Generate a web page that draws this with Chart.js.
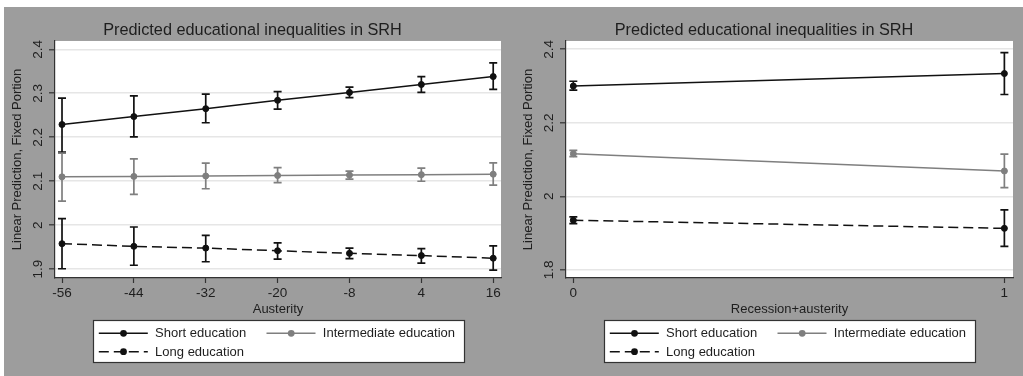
<!DOCTYPE html>
<html>
<head>
<meta charset="utf-8">
<script src="https://cdn.jsdelivr.net/npm/chart.js@4.4.1/dist/chart.umd.min.js"></script>
<style>
  html, body { margin: 0; padding: 0; background: #ffffff; width: 1023px; height: 376px; overflow: hidden; }
  #wrapL { position: absolute; left: 0; top: 7px; width: 511px; height: 369px; background: linear-gradient(to right, #ffffff 4px, #9d9d9d 4px); }
  #wrapR { position: absolute; left: 511px; top: 7px; width: 512px; height: 369px; background: #9d9d9d; }
</style>
</head>
<body>
<div id="wrapL"><canvas id="cL" width="511" height="369"></canvas></div>
<div id="wrapR"><canvas id="cR" width="512" height="369"></canvas></div>
<script>
// ---------- Data ----------
const titleText = 'Predicted educational inequalities in SRH';
const yAxisTitle = 'Linear Prediction, Fixed Portion';
const seriesNames = ['Short education', 'Intermediate education', 'Long education'];

// Left panel: Austerity
const austerity = [-56, -44, -32, -20, -8, 4, 16];
const shortA    = [2.229, 2.247, 2.265, 2.284, 2.302, 2.320, 2.338];
const shortALo  = [2.166, 2.201, 2.233, 2.264, 2.290, 2.302, 2.309];
const shortAHi  = [2.289, 2.294, 2.298, 2.304, 2.314, 2.338, 2.369];
const interA    = [2.110, 2.111, 2.112, 2.113, 2.114, 2.115, 2.116];
const interALo  = [2.055, 2.070, 2.083, 2.097, 2.105, 2.100, 2.091];
const interAHi  = [2.164, 2.151, 2.141, 2.131, 2.123, 2.130, 2.142];
const longA     = [1.958, 1.952, 1.948, 1.942, 1.936, 1.931, 1.925];
const longALo   = [1.901, 1.909, 1.917, 1.923, 1.924, 1.914, 1.898];
const longAHi   = [2.015, 1.996, 1.977, 1.960, 1.948, 1.947, 1.953];
const yTicksA   = [1.9, 2.0, 2.1, 2.2, 2.3, 2.4];

// Right panel: Recession+austerity
const recession = [0, 1];
const shortR    = [2.300, 2.334];
const shortRLo  = [2.289, 2.277];
const shortRHi  = [2.313, 2.391];
const interR    = [2.116, 2.069];
const interRLo  = [2.108, 2.024];
const interRHi  = [2.125, 2.115];
const longR     = [1.935, 1.913];
const longRLo   = [1.926, 1.864];
const longRHi   = [1.944, 1.963];
const yTicksR   = [1.8, 2.0, 2.2, 2.4];

// ---------- Styling ----------
const FONT = 'Liberation Sans, Arial, Helvetica, sans-serif';
const TXT = '#1e1e1e';
const BLACK = '#111111';
const GRAY = '#7f7f7f';
const DASH = [10, 5];

function pts(xs, ys) { return xs.map((x, i) => ({ x: x, y: ys[i] })); }

const plotBg = {
  id: 'plotBg',
  beforeDraw(chart) {
    const { ctx, chartArea: a } = chart;
    ctx.save();
    ctx.fillStyle = '#ffffff';
    ctx.fillRect(a.left, a.top, a.right - a.left, a.bottom - a.top);
    ctx.restore();
  }
};

const errBars = {
  id: 'errBars',
  afterDatasetsDraw(chart) {
    const { ctx } = chart;
    const xs = chart.scales.x, ys = chart.scales.y;
    chart.data.datasets.forEach(ds => {
      if (!ds.lo) return;
      ctx.save();
      ctx.strokeStyle = ds.borderColor;
      ctx.lineWidth = 1.7;
      ctx.setLineDash([]);
      ds.data.forEach((p, i) => {
        const px = xs.getPixelForValue(p.x);
        const y1 = ys.getPixelForValue(ds.lo[i]);
        const y2 = ys.getPixelForValue(ds.hi[i]);
        ctx.beginPath();
        ctx.moveTo(px, y1); ctx.lineTo(px, y2);
        ctx.moveTo(px - 4, y1); ctx.lineTo(px + 4, y1);
        ctx.moveTo(px - 4, y2); ctx.lineTo(px + 4, y2);
        ctx.stroke();
      });
      ctx.restore();
    });
  }
};

const boxLegend = {
  id: 'boxLegend',
  afterDraw(chart) {
    const { ctx, chartArea: a } = chart;
    const w = 371, h = 42;
    const cx = (a.left + a.right) / 2;
    const left = Math.round(cx - w / 2) + 0.5;
    const top = 313.5;
    ctx.save();
    ctx.fillStyle = '#ffffff';
    ctx.fillRect(left, top, w, h);
    ctx.strokeStyle = '#333333';
    ctx.lineWidth = 1.2;
    ctx.strokeRect(left, top, w, h);
    const items = [
      { idx: 0, col: 0, row: 0 },
      { idx: 1, col: 1, row: 0 },
      { idx: 2, col: 0, row: 1 }
    ];
    const colX = [5.3, 173];
    const rowY = [326.3, 344.7];
    items.forEach(it => {
      const ds = chart.data.datasets[it.idx];
      const x0 = left + colX[it.col];
      const y = rowY[it.row];
      ctx.strokeStyle = ds.borderColor;
      ctx.lineWidth = 1.4;
      ctx.setLineDash(ds.borderDash || []);
      ctx.beginPath();
      ctx.moveTo(x0, y); ctx.lineTo(x0 + 49, y);
      ctx.stroke();
      ctx.setLineDash([]);
      ctx.fillStyle = ds.pointBackgroundColor;
      ctx.beginPath();
      ctx.arc(x0 + 24.7, y, 3.4, 0, Math.PI * 2);
      ctx.fill();
      ctx.fillStyle = TXT;
      ctx.font = '13px ' + FONT;
      ctx.textBaseline = 'middle';
      ctx.textAlign = 'left';
      ctx.fillText(seriesNames[it.idx], x0 + 56.3, y + 0.5);
    });
    ctx.restore();
  }
};

function makeDatasets(xs, s, sLo, sHi, m, mLo, mHi, l, lLo, lHi) {
  const base = { fill: false, borderWidth: 1.5, pointRadius: 3, pointBorderWidth: 1, pointHoverRadius: 3, tension: 0, clip: false };
  return [
    Object.assign({}, base, { label: seriesNames[0], data: pts(xs, s), lo: sLo, hi: sHi,
      borderColor: BLACK, pointBackgroundColor: BLACK, pointBorderColor: BLACK }),
    Object.assign({}, base, { label: seriesNames[1], data: pts(xs, m), lo: mLo, hi: mHi,
      borderColor: GRAY, pointBackgroundColor: GRAY, pointBorderColor: GRAY }),
    Object.assign({}, base, { label: seriesNames[2], data: pts(xs, l), lo: lLo, hi: lHi,
      borderColor: BLACK, pointBackgroundColor: BLACK, pointBorderColor: BLACK, borderDash: DASH })
  ];
}

function makeChart(id, xs, xTitle, xMin, xMax, yMin, yMax, yTicks, datasets) {
  return new Chart(document.getElementById(id), {
    type: 'line',
    data: { datasets: datasets },
    plugins: [plotBg, errBars, boxLegend],
    options: {
      responsive: false,
      animation: false,
      events: [],
      layout: { padding: { left: 4, right: 10, top: 0, bottom: 0 } },
      plugins: {
        legend: { display: false },
        tooltip: { enabled: false },
        title: {
          display: true, text: titleText, color: TXT,
          font: { family: FONT, size: 16.3, weight: 'normal' },
          padding: { top: 14, bottom: 0.4 }
        }
      },
      scales: {
        x: {
          type: 'linear', min: xMin, max: xMax,
          afterFit(scale) { scale.height = 98; },
          afterBuildTicks(scale) { scale.ticks = xs.map(v => ({ value: v })); },
          border: { display: true, color: '#333333', width: 1.2 },
          grid: { drawOnChartArea: false, drawTicks: true, tickLength: 5, tickColor: '#333333', tickWidth: 1.2 },
          ticks: { color: TXT, font: { family: FONT, size: 13.5 }, padding: 2, maxRotation: 0, autoSkip: false,
            callback: v => String(v) },
          title: { display: true, text: xTitle, color: TXT, font: { family: FONT, size: 13 },
            padding: { top: 0, bottom: 59 } }
        },
        y: {
          type: 'linear', min: yMin, max: yMax,
          afterFit(scale) { scale.width = 51; },
          afterBuildTicks(scale) { scale.ticks = yTicks.map(v => ({ value: v })); },
          border: { display: true, color: '#333333', width: 1.2 },
          grid: { drawOnChartArea: true, color: '#e6e6e6', lineWidth: 1.6, drawTicks: true, tickLength: 6,
            tickColor: '#333333', tickWidth: 1.2 },
          ticks: { color: TXT, font: { family: FONT, size: 13.5 }, padding: 1, minRotation: 90, maxRotation: 90,
            crossAlign: 'center', autoSkip: false, callback: v => String(Math.round(v * 10) / 10) },
          title: { display: true, text: yAxisTitle, color: TXT, font: { family: FONT, size: 13 },
            padding: { top: 6, bottom: 0 } }
        }
      }
    }
  });
}

makeChart('cL', austerity, 'Austerity', -57.17, 17.3, 1.880, 2.419, yTicksA,
  makeDatasets(austerity, shortA, shortALo, shortAHi, interA, interALo, interAHi, longA, longALo, longAHi));
makeChart('cR', recession, 'Recession+austerity', -0.017, 1.020, 1.778, 2.4226, yTicksR,
  makeDatasets(recession, shortR, shortRLo, shortRHi, interR, interRLo, interRHi, longR, longRLo, longRHi));
</script>
</body>
</html>
